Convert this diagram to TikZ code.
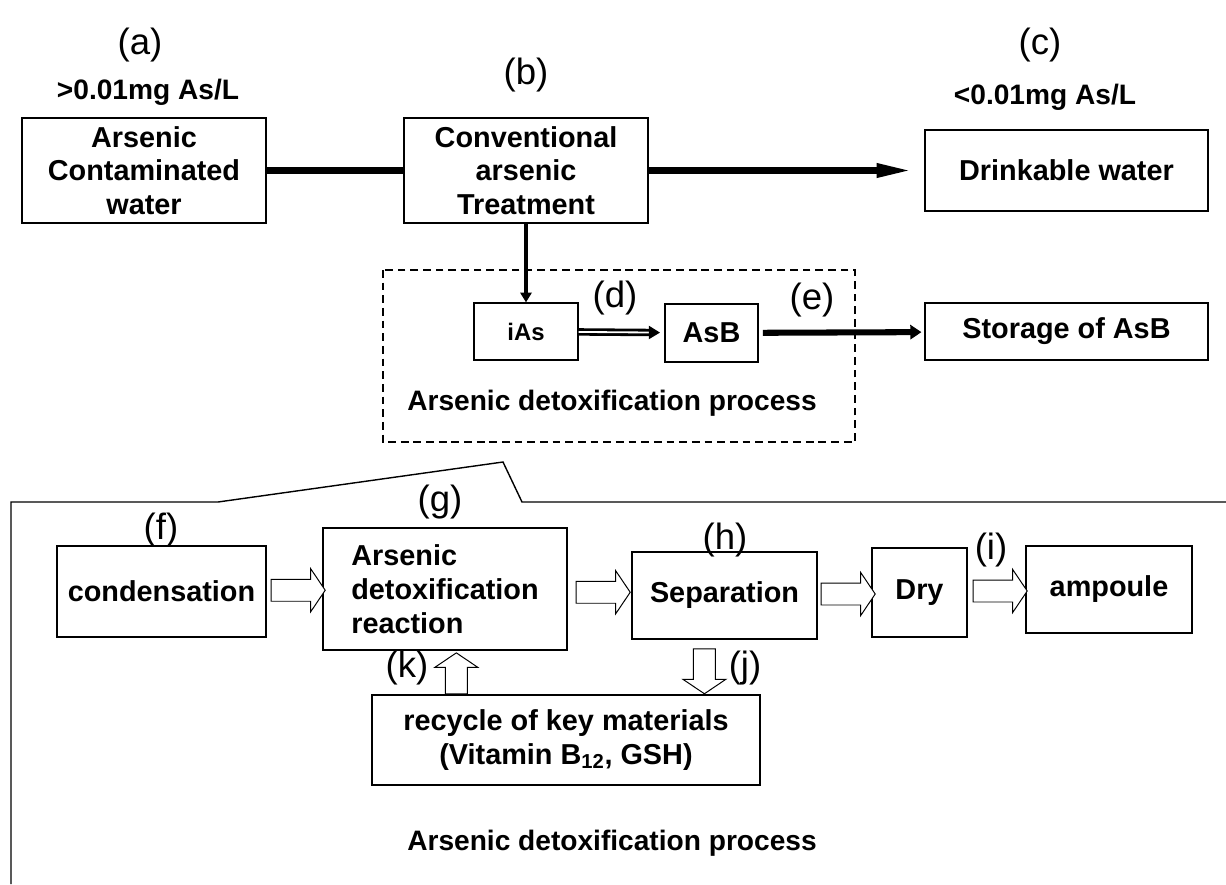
\documentclass[tikz,border=0pt]{standalone}
\usepackage{fontspec}
\setmainfont{Liberation Sans}
\usetikzlibrary{arrows.meta,shapes.arrows,calc}

\tikzset{
  box/.style={draw, line width=0.9pt, align=center, inner sep=0pt,
    font=\bfseries\fontsize{20.5}{24}\selectfont},
  tag/.style={font=\fontsize{26}{30}\selectfont},
  limit/.style={font=\bfseries\fontsize{20}{24}\selectfont},
  caption/.style={font=\bfseries\fontsize{20}{24}\selectfont},
  bigarrow/.style={single arrow, draw, line width=0.7pt, fill=white,
    inner sep=0.2625cm, single arrow head extend=0.2625cm,
    single arrow tip angle=112},
}

\begin{document}
\begin{tikzpicture}[x=0.025cm, y=-0.025cm]
  \useasboundingbox (0,0) rectangle (1226,884);

  % water treatment line
  \node[box, minimum width=6.1cm, minimum height=2.625cm] (raw) at (144,170.5)
    {Arsenic\\Contaminated\\water};
  \node[box, minimum width=6.1cm, minimum height=2.625cm] (conv) at (526,170.5)
    {Conventional\\arsenic\\Treatment};
  \node[box, minimum width=7.075cm, minimum height=2.025cm] (drink) at (1066.5,170.5)
    {Drinkable water};
  \node[tag] (a) at (140,45) {(a)};
  \node[tag] (b) at (526,75) {(b)};
  \node[tag] (c) at (1040,45) {(c)};
  \node[limit] (hi) at (148,92) {>0.01mg As/L};
  \node[limit] (lo) at (1045,97) {<0.01mg As/L};

  \draw[line width=5pt] (raw) -- (conv);
  \draw[line width=5pt, shorten >=7pt, -{Triangle[length=27pt,width=9pt]}] (conv) -- (drink);

  % detoxification (summary)
  \draw[line width=1.3pt, dash pattern=on 5.5pt off 3.5pt] (383,270) rectangle (855,442);
  \node[box, font=\bfseries\fontsize{17}{20}\selectfont,
    minimum width=2.6cm, minimum height=1.425cm] (ias) at (526,331.5) {iAs};
  \node[box, minimum width=2.325cm, minimum height=1.45cm] (asb) at (711.5,333) {AsB};
  \node[box, minimum width=7.075cm, minimum height=1.425cm] (store) at (1066.5,331.5)
    {Storage of AsB};
  \node[tag] (d) at (615,298) {(d)};
  \node[tag] (e) at (812,300) {(e)};
  \node[caption] (top) at (612,403) {Arsenic detoxification process};

  \draw[line width=3pt, -{Triangle[length=7pt,width=8pt]}] (conv) -- (ias);
  \draw[double, line width=2pt, double distance=1.3pt, shorten >=3pt,
    -{Triangle[length=8pt,width=9pt]}] (ias) -- (asb);
  \draw[line width=4.3pt, shorten <=3pt, shorten >=2pt,
    -{Triangle[length=8pt,width=10pt]}] (asb) -- (store);

  % detoxification (detail)
  \draw[line width=1pt] (11,884) -- (11,502) -- (218,502) -- (503,462) -- (522,502) -- (1226,502);
  \node[box, minimum width=5.225cm, minimum height=2.275cm] (cond) at (161.5,591.5)
    {condensation};
  \node[box, align=left, minimum width=6.1cm, minimum height=3.05cm] (react) at (445,589)
    {Arsenic\\detoxification\\reaction};
  \node[box, minimum width=4.625cm, minimum height=2.175cm] (sep) at (724.5,595.5)
    {Separation};
  \node[box, minimum width=2.375cm, minimum height=2.225cm] (dry) at (919.5,592.5) {Dry};
  \node[box, minimum width=4.15cm, minimum height=2.175cm] (amp) at (1109,589.5)
    {ampoule};
  \node[box, minimum width=9.7cm, minimum height=2.25cm] (recyc) at (566,740)
    {recycle of key materials\\(Vitamin B\textsubscript{12}, GSH)};
  \node[tag] (f) at (161,530) {(f)};
  \node[tag] (g) at (440,502) {(g)};
  \node[tag] (h) at (725,540) {(h)};
  \node[tag] (i) at (991,550) {(i)};
  \node[tag] (k) at (407,668) {(k)};
  \node[tag] (j) at (745,668) {(j)};
  \node[caption] (bottom) at (612,843) {Arsenic detoxification process};

  \node[bigarrow, minimum height=1.35cm] at ($(cond.east)!0.5!(react.west)$) {};
  \node[bigarrow, minimum height=1.35cm] at ($(react.east)!0.5!(sep.west)$) {};
  \node[bigarrow, minimum height=1.35cm] at ($(sep.east)!0.5!(dry.west)$) {};
  \node[bigarrow, minimum height=1.35cm] at ($(dry.east)!0.5!(amp.west)$) {};
  \node[bigarrow, shape border rotate=90, minimum height=1.025cm, anchor=tail]
    at ([xshift=2.125cm]recyc.north west) {};
  \node[bigarrow, shape border rotate=270, minimum height=1.125cm, anchor=tip]
    at ([xshift=8.325cm]recyc.north west) {};
\end{tikzpicture}
\end{document}
